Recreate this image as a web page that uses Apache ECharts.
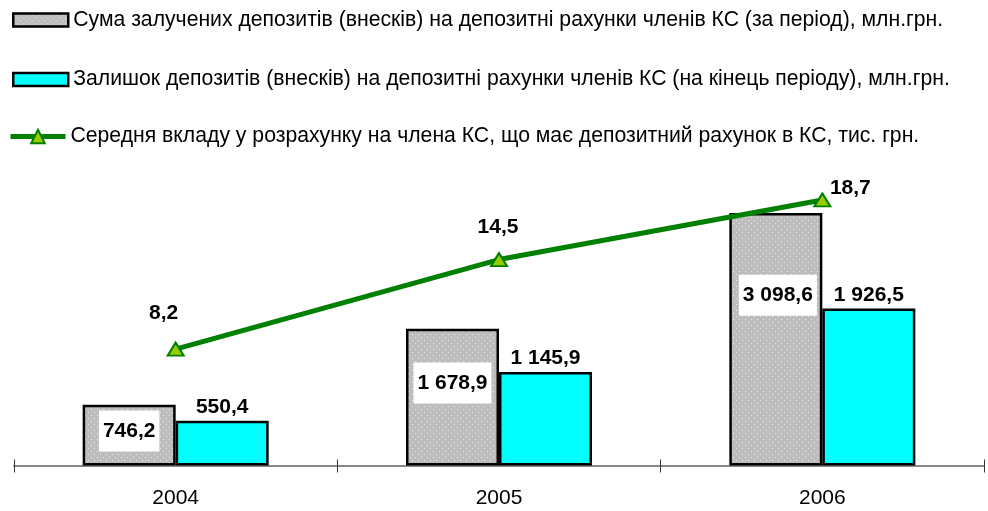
<!DOCTYPE html>
<html><head><meta charset="utf-8">
<script src="https://cdn.jsdelivr.net/npm/echarts@6/dist/echarts.min.js"></script>
<style>html,body{margin:0;padding:0;background:#fff}#c{width:988px;height:511px}</style>
</head><body><div id="c"></div>
<script>
const categories = ['2004', '2005', '2006'];
const depositsAttracted = [746.2, 1678.9, 3098.6];
const depositsBalance = [550.4, 1145.9, 1926.5];
const avgDeposit = [8.2, 14.5, 18.7];
const seriesNames = [
  'Сума залучених депозитів (внесків) на депозитні рахунки членів КС (за період), млн.грн.',
  'Залишок депозитів (внесків) на депозитні рахунки членів КС (на кінець періоду), млн.грн.',
  'Середня вкладу у розрахунку на члена КС, що має депозитний рахунок в КС, тис. грн.'
];

function fmt(v) {
  const s = v.toFixed(1);
  const parts = s.split('.');
  return parts[0].replace(/\B(?=(\d{3})+(?!\d))/g, ' ') + ',' + parts[1];
}

const pc = document.createElement('canvas');
pc.width = 6; pc.height = 6;
const ctx = pc.getContext('2d');
ctx.fillStyle = '#bdbdbd'; ctx.fillRect(0, 0, 6, 6);
ctx.fillStyle = '#ececec'; ctx.fillRect(1, 1, 1, 1); ctx.fillRect(4, 4, 1, 1);
const grayPattern = { image: pc, repeat: 'repeat' };

const FONT = '"Liberation Sans", Arial, sans-serif';
const grayLabelOffsets = [[0, -4], [0, -14], [2, -44]];
const lineLabelOffsets = [[-12, -36], [-1, -32], [28, -12]];

const chart = echarts.init(document.getElementById('c'), null, { renderer: 'canvas' });
const legendBase = {
  orient: 'vertical', left: 12, padding: 0, itemWidth: 55, itemHeight: 13, itemGap: 4,
  textStyle: { fontSize: 21.2, color: '#000', fontFamily: FONT }
};
chart.setOption({
  animation: false,
  textStyle: { fontFamily: FONT },
  legend: [
    Object.assign({}, legendBase, { top: 9.5, icon: 'rect', data: [seriesNames[0]], itemStyle: { borderColor: '#000', borderWidth: 2.5 } }),
    Object.assign({}, legendBase, { top: 69, icon: 'rect', data: [seriesNames[1]], itemStyle: { borderColor: '#000', borderWidth: 2.5 } }),
    Object.assign({}, legendBase, { top: 126, left: 8, itemHeight: 17, data: [seriesNames[2]],
      lineStyle: { color: '#008000', width: 5 },
      itemStyle: { color: '#99cc00', borderColor: '#008000', borderWidth: 2 } })
  ],
  grid: { left: 14, right: 4, top: 125.5, bottom: 45.5 },
  xAxis: [{
    type: 'category', data: categories,
    axisLine: { lineStyle: { color: '#888', width: 2 } },
    axisTick: { show: true, length: 7, lineStyle: { color: '#333', width: 1 } },
    axisLabel: { fontSize: 21, color: '#000', margin: 22, fontFamily: FONT }
  }, {
    type: 'category', data: categories, position: 'bottom',
    axisLine: { show: false },
    axisTick: { show: true, inside: true, length: 6, lineStyle: { color: '#333', width: 1 } },
    axisLabel: { show: false }
  }],
  yAxis: [
    { type: 'value', min: 0, max: 4172, show: false, splitLine: { show: false } },
    { type: 'value', min: 0, max: 23.94, show: false, splitLine: { show: false } }
  ],
  series: [
    {
      name: seriesNames[0], type: 'bar', barWidth: 93, barGap: '0%',
      itemStyle: { color: grayPattern, borderColor: '#000', borderWidth: 2.5 },
      data: depositsAttracted.map((v, i) => ({
        value: v,
        label: {
          show: true, position: 'inside', offset: grayLabelOffsets[i],
          formatter: p => fmt(p.value), fontSize: 21, fontWeight: 'bold', color: '#000',
          backgroundColor: '#fff', padding: [10, 4], lineHeight: 21
        }
      }))
    },
    {
      name: seriesNames[1], type: 'bar', barWidth: 93, barGap: '0%',
      itemStyle: { color: '#00ffff', borderColor: '#000', borderWidth: 2.5 },
      label: {
        show: true, position: 'top', distance: 3,
        formatter: p => fmt(p.value), fontSize: 21, fontWeight: 'bold', color: '#000'
      },
      data: depositsBalance
    },
    {
      name: seriesNames[2], type: 'line', yAxisIndex: 1, z: 5,
      symbol: 'triangle', symbolSize: [16, 13],
      lineStyle: { color: '#008000', width: 5 },
      itemStyle: { color: '#99cc00', borderColor: '#008000', borderWidth: 2 },
      data: avgDeposit.map((v, i) => ({
        value: v,
        label: {
          show: true, position: 'inside', offset: lineLabelOffsets[i],
          formatter: p => fmt(p.value), fontSize: 21, fontWeight: 'bold', color: '#000'
        }
      }))
    }
  ]
});
</script></body></html>
